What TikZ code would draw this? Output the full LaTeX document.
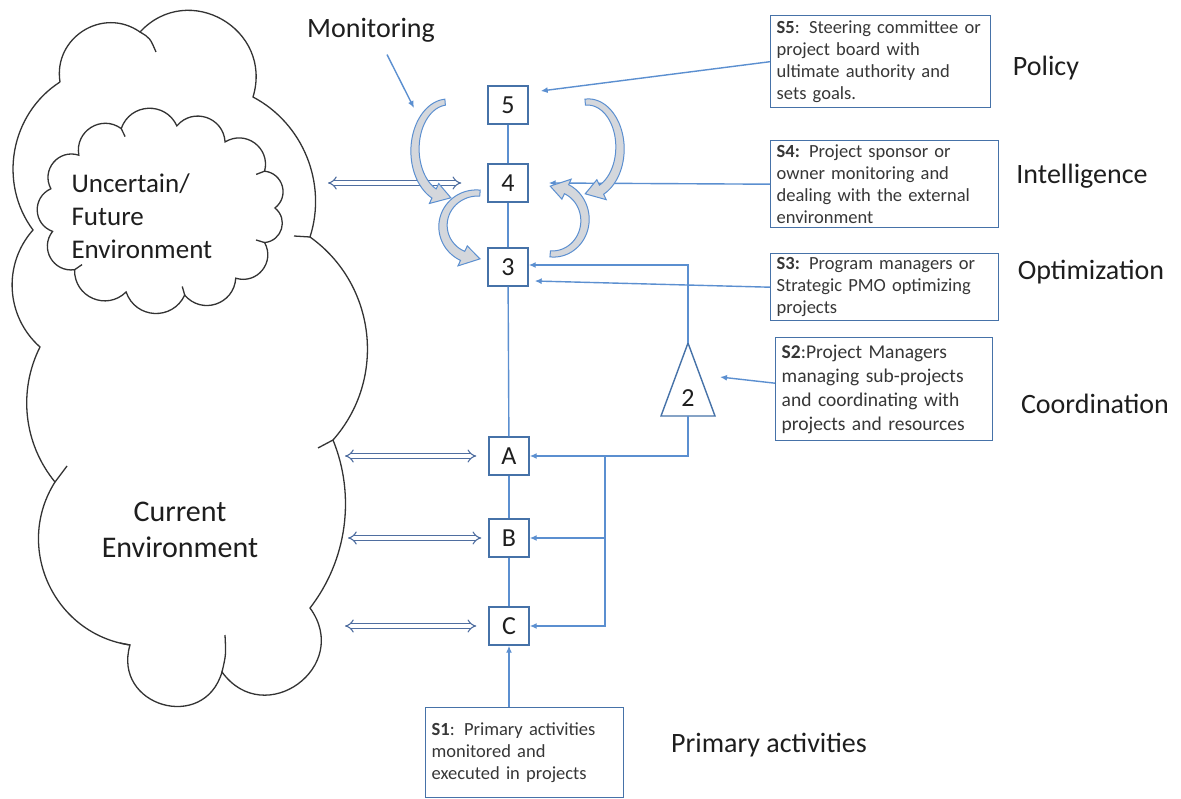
\documentclass[tikz,border=0pt]{standalone}
\usepackage{fontspec}
\setmainfont{Carlito}
\usetikzlibrary{arrows.meta,calc}

\definecolor{linkblue}{RGB}{91,143,208}
\definecolor{edgeblue}{RGB}{70,114,168}
\definecolor{dblblue}{RGB}{79,110,160}
\definecolor{inkgray}{RGB}{30,30,30}
\definecolor{bodygray}{RGB}{55,55,55}
\definecolor{arcfill}{RGB}{212,215,220}

% curved block arrow along an ellipse: cx, cy, rx, ry, start angle, end angle, tip angle
\newcommand\bentarrow[7]{%
  \filldraw[bent]
    plot[domain=#5:#6, samples=40, variable=\ang]
      ({#1+(#3+3+2*(\ang-(#5))/((#6)-(#5)))*cos(\ang)},{#2+(#4+3+2*(\ang-(#5))/((#6)-(#5)))*sin(\ang)})
    -- ({#1+(#3+11)*cos(#6)},{#2+(#4+11)*sin(#6)})
    -- ({#1+#3*cos(#7)},{#2+#4*sin(#7)})
    -- ({#1+(#3-11)*cos(#6)},{#2+(#4-11)*sin(#6)})
    -- plot[domain=#6:#5, samples=40, variable=\ang]
      ({#1+(#3-3-2*(\ang-(#5))/((#6)-(#5)))*cos(\ang)},{#2+(#4-3-2*(\ang-(#5))/((#6)-(#5)))*sin(\ang)})
    -- cycle;}

\begin{document}
\begin{tikzpicture}[x=1pt,y=-1pt,
  conn/.style={draw=linkblue, line width=1.4pt, -{Latex[length=7pt,width=6pt]}},
  link/.style={draw=linkblue, line width=1.4pt},
  numbox/.style={draw=edgeblue, line width=1.4pt, fill=white, minimum width=40pt,
    minimum height=38pt, inner sep=0pt, font=\fontsize{26}{30}\selectfont, text=inkgray},
  descbox/.style={draw=edgeblue, line width=1.4pt, fill=white, inner xsep=6pt, inner ysep=2pt,
    align=left, anchor=north west, font=\fontsize{18.5}{22}\selectfont, text=bodygray},
  tier/.style={font=\fontsize{28}{34}\selectfont, text=inkgray},
  dbl/.style={draw=dblblue, line width=1.1pt, double=white, double distance=3.4pt, {Implies}-{Implies}},
  cloudline/.style={draw=black!80, line width=1.3pt},
  bent/.style={draw=linkblue, line width=1pt, fill=arcfill}]

\fill[white] (0,0) rectangle (1181,799);
\useasboundingbox (0,0) rectangle (1181,799);

% outer cloud: current environment
\draw[cloudline] (60,82)
  to[bend left=67, looseness=1.22] (140,32)
  to[bend left=77, looseness=1.39] (253,97)
  to[bend left=40, looseness=0.96] (310,237)
  to[bend left=48, looseness=1.02] (333,440)
  to[bend left=30, looseness=0.91] (310,608)
  to[bend left=90, looseness=1.7] (222,672)
  to[bend left=90, looseness=1.7] (130,645)
  to[bend left=57, looseness=1.1] (55,482)
  to[bend left=33, looseness=0.93] (40,347)
  to[bend left=45, looseness=1.0] (33,230)
  to[bend left=47, looseness=1.0] (60,82);
% small hooks where lobes meet
\draw[cloudline] (140,32) .. controls (150,38) .. (156,52);
\draw[cloudline] (310,237) -- (294,236);
\draw[cloudline] (333,440) -- (318,448);
\draw[cloudline] (222,672) .. controls (226,655) .. (225,635);
\draw[cloudline] (130,645) -- (120,643);
\draw[cloudline] (55,482) -- (67,466);

% inner cloud: uncertain / future environment
\foreach \k/\qa/\qr in {0/195/1.00, 1/222/0.97, 2/250/1.02, 3/278/1.00, 4/305/0.98,
    5/333/1.02, 6/358/1.00, 7/22/0.98, 8/50/1.02, 9/78/1.00, 10/108/0.99,
    11/138/1.02, 12/166/0.98, 13/195/1.00}{
  \coordinate (q\k) at ({161+\qr*114*cos(\qa)},{211+\qr*86*sin(\qa)});
}
\draw[cloudline, fill=white] (q0)
  \foreach \k in {1,...,13}{ to[bend left=68, looseness=1.25] (q\k) } -- cycle;
% hooks at a few cusps of the inner cloud
\draw[cloudline] (q2) -- ($(q2)!9pt!(161,211)$);
\draw[cloudline] (q5) -- ($(q5)!9pt!(161,211)$);
\draw[cloudline] (q7) -- ($(q7)!9pt!(161,211)$);
\draw[cloudline] (q9) -- ($(q9)!9pt!(161,211)$);
\draw[cloudline] (q11) -- ($(q11)!9pt!(161,211)$);

\node[font=\fontsize{27}{33}\selectfont, text=inkgray, anchor=west, align=left] (unc) at (68,216)
  {Uncertain/\\Future\\Environment};
\node[font=\fontsize{30}{36}\selectfont, text=inkgray, align=center] (cur) at (180,530)
  {Current\\Environment};

% system boxes on the spine
\node[numbox] (n5) at (508,105) {5};
\node[numbox] (n4) at (508,183) {4};
\node[numbox] (n3) at (508,267) {3};
\node[numbox] (nA) at (509,456) {A};
\node[numbox] (nB) at (509,538) {B};
\node[numbox] (nC) at (509,626) {C};

\draw[link] (n5) -- (n4);
\draw[link] (n4) -- (n3);
\draw[link] (n3) -- (nA);
\draw[link] (nA) -- (nB);
\draw[link] (nB) -- (nC);

% descriptions
\node[descbox, text width=208pt, minimum height=92pt] (s5) at (770,15)
  {\textbf{S5}: Steering committee or\\project board with\\ultimate authority and\\sets goals.};
\node[descbox, text width=216pt, minimum height=87pt] (s4) at (770,140)
  {\textbf{S4:} Project sponsor or\\owner monitoring and\\dealing with the external\\environment};
\node[descbox, text width=216pt, minimum height=67pt] (s3) at (770,253)
  {\textbf{S3:} Program managers or\\Strategic PMO optimizing\\projects};
\node[descbox, text width=205pt, minimum height=103pt, font=\fontsize{19.5}{24}\selectfont] (s2) at (775,337)
  {\textbf{S2}:Project Managers\\managing sub-projects\\and coordinating with\\projects and resources};
\node[descbox, text width=186pt, minimum height=90pt] (s1) at (425,707)
  {\textbf{S1}: Primary activities\\monitored and\\executed in projects};

% tier names
\node[tier] (tmon) at (371,30) {Monitoring};
\node[tier] (tpol) at (1046,68) {Policy};
\node[tier] (tint) at (1082,176) {Intelligence};
\node[tier] (topt) at (1091,272) {Optimization};
\node[tier] (tcoo) at (1095,404) {Coordination};
\node[tier] (tpri) at (769,745) {Primary activities};

% coordination triangle
\coordinate (t2a) at (688,343);
\coordinate (t2r) at (715,416);
\coordinate (t2l) at (661,416);
\coordinate (t2b) at (688,416);
\coordinate (t2p) at (720,377);
\draw[draw=edgeblue, line width=1.4pt, fill=white] (t2a) -- (t2r) -- (t2l) -- cycle;
\node[font=\fontsize{26}{30}\selectfont, text=inkgray] (n2) at (688,398) {2};

% connectors
\draw[conn] (s5.west) -- ([xshift=12pt,yshift=14pt]n5.east);
\draw[conn] (s4.west) -- ([xshift=20pt]n4.east);
\draw[conn] (s3.west) -- ([xshift=6pt,yshift=-14pt]n3.east);
\draw[conn] (t2a) |- ([yshift=2pt]n3.east);
\draw[conn] ([yshift=6pt]s2.west) -- (t2p);
\coordinate (jA) at (605,456);
\draw[conn] (t2b) |- (nA.east);
\draw[conn] (jA) |- (nC.east);
\draw[conn] (jA |- nB.east) -- (nB.east);
\draw[conn] (nC |- s1.north) -- (nC.south);
\coordinate (monend) at (414,108);
\draw[conn] ([xshift=16pt,yshift=-9pt]tmon.south) -- (monend);

% exchanges with the environment
\coordinate (c4) at (328,183);
\coordinate (cA) at (345,456);
\coordinate (cB) at (348,538);
\coordinate (cC) at (345,626);
\draw[dbl, shorten >=26pt] (c4) -- (n4.west);
\draw[dbl, shorten >=12pt] (cA) -- (nA.west);
\draw[dbl, shorten >=7pt] (cB) -- (nB.west);
\draw[dbl, shorten >=12pt] (cC) -- (nC.west);

% monitoring loops between 5, 4 and 3
\bentarrow{448}{150}{33}{48}{265}{115}{85}
\bentarrow{477}{226}{34}{33}{275}{115}{85}
\bentarrow{588}{148}{32}{46}{-95}{65}{95}
\bentarrow{553}{220}{32}{34}{95}{-65}{-95}

\end{tikzpicture}
\end{document}
